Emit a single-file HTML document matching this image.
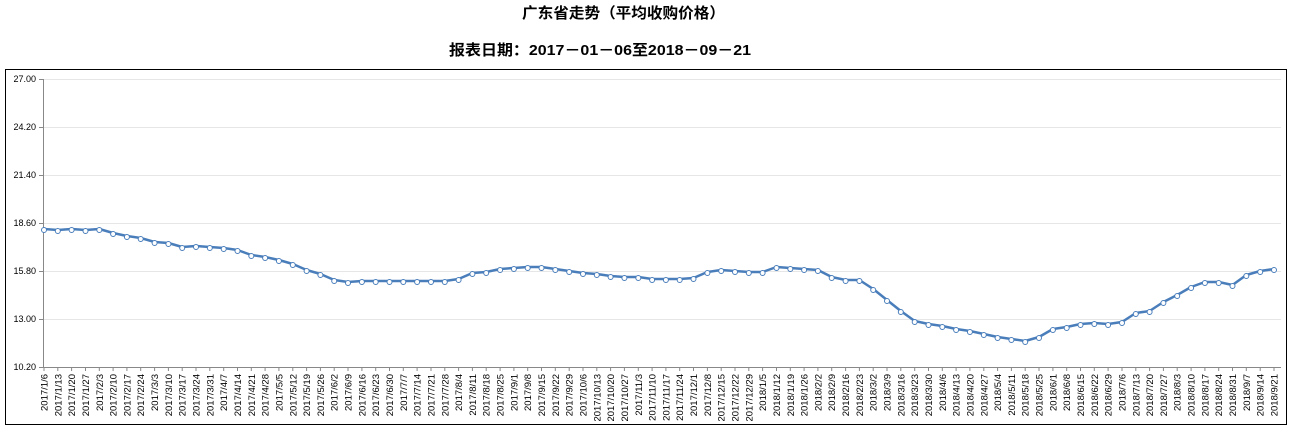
<!DOCTYPE html>
<html><head><meta charset="utf-8"><style>
html,body{margin:0;padding:0;background:#fff;width:1290px;height:433px;overflow:hidden}
svg{display:block}
.t{font-family:"Liberation Sans","Noto Sans CJK SC",sans-serif;font-weight:bold;font-size:15px;fill:#000}
.y{font-family:"Liberation Sans",sans-serif;font-size:9px;fill:#000}
.x text{font-family:"Liberation Sans",sans-serif;font-size:9.5px;fill:#000}
</style></head><body>
<svg width="1290" height="433" viewBox="0 0 1290 433">
<text class="t" x="522" y="18" textLength="203" lengthAdjust="spacingAndGlyphs">广东省走势（平均收购价格）</text>
<text class="t" x="449" y="55" textLength="302" lengthAdjust="spacingAndGlyphs">报表日期：2017－01－06至2018－09－21</text>
<rect x="5.5" y="69.5" width="1281" height="355" fill="none" stroke="#000" stroke-width="1"/>
<g stroke="#e6e6e6" stroke-width="1">
<line x1="43" x2="1281" y1="79.5" y2="79.5"/><line x1="43" x2="1281" y1="127.5" y2="127.5"/><line x1="43" x2="1281" y1="175.5" y2="175.5"/><line x1="43" x2="1281" y1="223.5" y2="223.5"/><line x1="43" x2="1281" y1="271.5" y2="271.5"/><line x1="43" x2="1281" y1="319.5" y2="319.5"/>
</g>
<g stroke="#888" stroke-width="1">
<line x1="43.5" x2="43.5" y1="79" y2="367"/><line x1="43" x2="1281" y1="367.5" y2="367.5"/>
<line x1="39" x2="43" y1="79.5" y2="79.5"/><line x1="39" x2="43" y1="127.5" y2="127.5"/><line x1="39" x2="43" y1="175.5" y2="175.5"/><line x1="39" x2="43" y1="223.5" y2="223.5"/><line x1="39" x2="43" y1="271.5" y2="271.5"/><line x1="39" x2="43" y1="319.5" y2="319.5"/><line x1="39" x2="43" y1="367.5" y2="367.5"/>
</g>
<g class="y" text-anchor="end">
<text x="36" y="82">27.00</text><text x="36" y="130">24.20</text><text x="36" y="178">21.40</text><text x="36" y="226">18.60</text><text x="36" y="274">15.80</text><text x="36" y="322">13.00</text><text x="36" y="370">10.20</text>
</g>
<path stroke="#888" stroke-width="1" d="M44,367v4M57.8,367v4M71.6,367v4M85.5,367v4M99.3,367v4M113.1,367v4M126.9,367v4M140.7,367v4M154.6,367v4M168.4,367v4M182.2,367v4M196,367v4M209.8,367v4M223.7,367v4M237.5,367v4M251.3,367v4M265.1,367v4M278.9,367v4M292.8,367v4M306.6,367v4M320.4,367v4M334.2,367v4M348,367v4M361.9,367v4M375.7,367v4M389.5,367v4M403.3,367v4M417.1,367v4M431,367v4M444.8,367v4M458.6,367v4M472.4,367v4M486.2,367v4M500.1,367v4M513.9,367v4M527.7,367v4M541.5,367v4M555.3,367v4M569.2,367v4M583,367v4M596.8,367v4M610.6,367v4M624.4,367v4M638.3,367v4M652.1,367v4M665.9,367v4M679.7,367v4M693.5,367v4M707.4,367v4M721.2,367v4M735,367v4M748.8,367v4M762.6,367v4M776.5,367v4M790.3,367v4M804.1,367v4M817.9,367v4M831.7,367v4M845.6,367v4M859.4,367v4M873.2,367v4M887,367v4M900.8,367v4M914.7,367v4M928.5,367v4M942.3,367v4M956.1,367v4M969.9,367v4M983.8,367v4M997.6,367v4M1011.4,367v4M1025.2,367v4M1039,367v4M1052.9,367v4M1066.7,367v4M1080.5,367v4M1094.3,367v4M1108.1,367v4M1122,367v4M1135.8,367v4M1149.6,367v4M1163.4,367v4M1177.2,367v4M1191.1,367v4M1204.9,367v4M1218.7,367v4M1232.5,367v4M1246.3,367v4M1260.2,367v4M1274,367v4"/>
<g class="x" transform="rotate(-90)" text-anchor="end">
<text x="-374" y="47.5">2017/1/6</text><text x="-374" y="61.3">2017/1/13</text><text x="-374" y="75.1">2017/1/20</text><text x="-374" y="89">2017/1/27</text><text x="-374" y="102.8">2017/2/3</text><text x="-374" y="116.6">2017/2/10</text><text x="-374" y="130.4">2017/2/17</text><text x="-374" y="144.2">2017/2/24</text><text x="-374" y="158.1">2017/3/3</text><text x="-374" y="171.9">2017/3/10</text><text x="-374" y="185.7">2017/3/17</text><text x="-374" y="199.5">2017/3/24</text><text x="-374" y="213.3">2017/3/31</text><text x="-374" y="227.2">2017/4/7</text><text x="-374" y="241">2017/4/14</text><text x="-374" y="254.8">2017/4/21</text><text x="-374" y="268.6">2017/4/28</text><text x="-374" y="282.4">2017/5/5</text><text x="-374" y="296.3">2017/5/12</text><text x="-374" y="310.1">2017/5/19</text><text x="-374" y="323.9">2017/5/26</text><text x="-374" y="337.7">2017/6/2</text><text x="-374" y="351.5">2017/6/9</text><text x="-374" y="365.4">2017/6/16</text><text x="-374" y="379.2">2017/6/23</text><text x="-374" y="393">2017/6/30</text><text x="-374" y="406.8">2017/7/7</text><text x="-374" y="420.6">2017/7/14</text><text x="-374" y="434.5">2017/7/21</text><text x="-374" y="448.3">2017/7/28</text><text x="-374" y="462.1">2017/8/4</text><text x="-374" y="475.9">2017/8/11</text><text x="-374" y="489.7">2017/8/18</text><text x="-374" y="503.6">2017/8/25</text><text x="-374" y="517.4">2017/9/1</text><text x="-374" y="531.2">2017/9/8</text><text x="-374" y="545">2017/9/15</text><text x="-374" y="558.8">2017/9/22</text><text x="-374" y="572.7">2017/9/29</text><text x="-374" y="586.5">2017/10/6</text><text x="-374" y="600.3">2017/10/13</text><text x="-374" y="614.1">2017/10/20</text><text x="-374" y="627.9">2017/10/27</text><text x="-374" y="641.8">2017/11/3</text><text x="-374" y="655.6">2017/11/10</text><text x="-374" y="669.4">2017/11/17</text><text x="-374" y="683.2">2017/11/24</text><text x="-374" y="697">2017/12/1</text><text x="-374" y="710.9">2017/12/8</text><text x="-374" y="724.7">2017/12/15</text><text x="-374" y="738.5">2017/12/22</text><text x="-374" y="752.3">2017/12/29</text><text x="-374" y="766.1">2018/1/5</text><text x="-374" y="780">2018/1/12</text><text x="-374" y="793.8">2018/1/19</text><text x="-374" y="807.6">2018/1/26</text><text x="-374" y="821.4">2018/2/2</text><text x="-374" y="835.2">2018/2/9</text><text x="-374" y="849.1">2018/2/16</text><text x="-374" y="862.9">2018/2/23</text><text x="-374" y="876.7">2018/3/2</text><text x="-374" y="890.5">2018/3/9</text><text x="-374" y="904.3">2018/3/16</text><text x="-374" y="918.2">2018/3/23</text><text x="-374" y="932">2018/3/30</text><text x="-374" y="945.8">2018/4/6</text><text x="-374" y="959.6">2018/4/13</text><text x="-374" y="973.4">2018/4/20</text><text x="-374" y="987.3">2018/4/27</text><text x="-374" y="1001.1">2018/5/4</text><text x="-374" y="1014.9">2018/5/11</text><text x="-374" y="1028.7">2018/5/18</text><text x="-374" y="1042.5">2018/5/25</text><text x="-374" y="1056.4">2018/6/1</text><text x="-374" y="1070.2">2018/6/8</text><text x="-374" y="1084">2018/6/15</text><text x="-374" y="1097.8">2018/6/22</text><text x="-374" y="1111.6">2018/6/29</text><text x="-374" y="1125.5">2018/7/6</text><text x="-374" y="1139.3">2018/7/13</text><text x="-374" y="1153.1">2018/7/20</text><text x="-374" y="1166.9">2018/7/27</text><text x="-374" y="1180.7">2018/8/3</text><text x="-374" y="1194.6">2018/8/10</text><text x="-374" y="1208.4">2018/8/17</text><text x="-374" y="1222.2">2018/8/24</text><text x="-374" y="1236">2018/8/31</text><text x="-374" y="1249.8">2018/9/7</text><text x="-374" y="1263.7">2018/9/14</text><text x="-374" y="1277.5">2018/9/21</text>
</g>
<polyline fill="none" stroke="#4a7ebb" stroke-width="2.5" stroke-linejoin="round" points="44,229 57.8,230 71.6,229 85.5,230 99.3,229 113.1,233 126.9,236 140.7,238 154.6,242 168.4,243 182.2,247 196,246 209.8,247 223.7,248 237.5,250 251.3,255 265.1,257 278.9,260 292.8,264 306.6,270 320.4,274 334.2,280 348,282 361.9,281 375.7,281 389.5,281 403.3,281 417.1,281 431,281 444.8,281 458.6,279 472.4,273 486.2,272 500.1,269 513.9,268 527.7,267 541.5,267 555.3,269 569.2,271 583,273 596.8,274 610.6,276 624.4,277 638.3,277 652.1,279 665.9,279 679.7,279 693.5,278 707.4,272 721.2,270 735,271 748.8,272 762.6,272 776.5,267 790.3,268 804.1,269 817.9,270 831.7,277 845.6,280 859.4,280 873.2,289 887,300 900.8,311 914.7,321 928.5,324 942.3,326 956.1,329 969.9,331 983.8,334 997.6,337 1011.4,339 1025.2,341 1039,337 1052.9,329 1066.7,327 1080.5,324 1094.3,323 1108.1,324 1122,322 1135.8,313 1149.6,311 1163.4,302 1177.2,295 1191.1,287 1204.9,282 1218.7,282 1232.5,285 1246.3,275 1260.2,271 1274,269"/>
<g fill="#fff" stroke="#4a7ebb" stroke-width="1">
<circle cx="44" cy="230" r="2.5"/><circle cx="57.8" cy="231" r="2.5"/><circle cx="71.6" cy="230" r="2.5"/><circle cx="85.5" cy="231" r="2.5"/><circle cx="99.3" cy="230" r="2.5"/><circle cx="113.1" cy="234" r="2.5"/><circle cx="126.9" cy="237" r="2.5"/><circle cx="140.7" cy="239" r="2.5"/><circle cx="154.6" cy="243" r="2.5"/><circle cx="168.4" cy="244" r="2.5"/><circle cx="182.2" cy="248" r="2.5"/><circle cx="196" cy="247" r="2.5"/><circle cx="209.8" cy="248" r="2.5"/><circle cx="223.7" cy="249" r="2.5"/><circle cx="237.5" cy="251" r="2.5"/><circle cx="251.3" cy="256" r="2.5"/><circle cx="265.1" cy="258" r="2.5"/><circle cx="278.9" cy="261" r="2.5"/><circle cx="292.8" cy="265" r="2.5"/><circle cx="306.6" cy="271" r="2.5"/><circle cx="320.4" cy="275" r="2.5"/><circle cx="334.2" cy="281" r="2.5"/><circle cx="348" cy="283" r="2.5"/><circle cx="361.9" cy="282" r="2.5"/><circle cx="375.7" cy="282" r="2.5"/><circle cx="389.5" cy="282" r="2.5"/><circle cx="403.3" cy="282" r="2.5"/><circle cx="417.1" cy="282" r="2.5"/><circle cx="431" cy="282" r="2.5"/><circle cx="444.8" cy="282" r="2.5"/><circle cx="458.6" cy="280" r="2.5"/><circle cx="472.4" cy="274" r="2.5"/><circle cx="486.2" cy="273" r="2.5"/><circle cx="500.1" cy="270" r="2.5"/><circle cx="513.9" cy="269" r="2.5"/><circle cx="527.7" cy="268" r="2.5"/><circle cx="541.5" cy="268" r="2.5"/><circle cx="555.3" cy="270" r="2.5"/><circle cx="569.2" cy="272" r="2.5"/><circle cx="583" cy="274" r="2.5"/><circle cx="596.8" cy="275" r="2.5"/><circle cx="610.6" cy="277" r="2.5"/><circle cx="624.4" cy="278" r="2.5"/><circle cx="638.3" cy="278" r="2.5"/><circle cx="652.1" cy="280" r="2.5"/><circle cx="665.9" cy="280" r="2.5"/><circle cx="679.7" cy="280" r="2.5"/><circle cx="693.5" cy="279" r="2.5"/><circle cx="707.4" cy="273" r="2.5"/><circle cx="721.2" cy="271" r="2.5"/><circle cx="735" cy="272" r="2.5"/><circle cx="748.8" cy="273" r="2.5"/><circle cx="762.6" cy="273" r="2.5"/><circle cx="776.5" cy="268" r="2.5"/><circle cx="790.3" cy="269" r="2.5"/><circle cx="804.1" cy="270" r="2.5"/><circle cx="817.9" cy="271" r="2.5"/><circle cx="831.7" cy="278" r="2.5"/><circle cx="845.6" cy="281" r="2.5"/><circle cx="859.4" cy="281" r="2.5"/><circle cx="873.2" cy="290" r="2.5"/><circle cx="887" cy="301" r="2.5"/><circle cx="900.8" cy="312" r="2.5"/><circle cx="914.7" cy="322" r="2.5"/><circle cx="928.5" cy="325" r="2.5"/><circle cx="942.3" cy="327" r="2.5"/><circle cx="956.1" cy="330" r="2.5"/><circle cx="969.9" cy="332" r="2.5"/><circle cx="983.8" cy="335" r="2.5"/><circle cx="997.6" cy="338" r="2.5"/><circle cx="1011.4" cy="340" r="2.5"/><circle cx="1025.2" cy="342" r="2.5"/><circle cx="1039" cy="338" r="2.5"/><circle cx="1052.9" cy="330" r="2.5"/><circle cx="1066.7" cy="328" r="2.5"/><circle cx="1080.5" cy="325" r="2.5"/><circle cx="1094.3" cy="324" r="2.5"/><circle cx="1108.1" cy="325" r="2.5"/><circle cx="1122" cy="323" r="2.5"/><circle cx="1135.8" cy="314" r="2.5"/><circle cx="1149.6" cy="312" r="2.5"/><circle cx="1163.4" cy="303" r="2.5"/><circle cx="1177.2" cy="296" r="2.5"/><circle cx="1191.1" cy="288" r="2.5"/><circle cx="1204.9" cy="283" r="2.5"/><circle cx="1218.7" cy="283" r="2.5"/><circle cx="1232.5" cy="286" r="2.5"/><circle cx="1246.3" cy="276" r="2.5"/><circle cx="1260.2" cy="272" r="2.5"/><circle cx="1274" cy="270" r="2.5"/>
</g>
</svg>
</body></html>
